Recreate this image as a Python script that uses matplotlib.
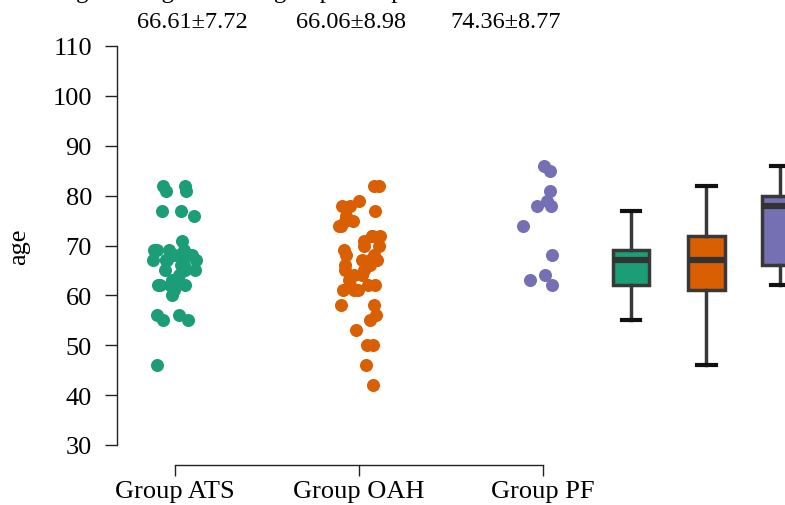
import numpy as np
import matplotlib
matplotlib.use('Agg')
from matplotlib import pyplot as plt

plt.rcParams['font.family'] = ['Liberation Serif', 'DejaVu Serif']

groups = ['Group ATS', 'Group OAH', 'Group PF']
ats = [46, 55, 55, 56, 56, 60, 61, 62, 62, 62, 62, 63, 63, 64, 65, 65, 65, 66, 66,
       67, 67, 67, 67, 67, 68, 68, 68, 68, 69, 69, 69, 69, 71, 76, 77, 77, 81, 81, 82, 82]
oah = [42, 46, 50, 50, 53, 55, 56, 58, 58, 61, 61, 61, 62, 62, 62, 63, 64, 64, 65, 65,
       66, 66, 67, 67, 67, 68, 68, 69, 70, 70, 71, 72, 72, 72, 74, 75, 74, 75, 76, 77,
       78, 78, 79, 82, 82]
pf = [62, 63, 64, 68, 74, 78, 78, 79, 81, 85, 86]
stats_txt = ['66.61\u00b17.72', '66.06\u00b18.98', '74.36\u00b18.77']
title = 'Age among the three groups compared'

colors = ['#1b9e77', '#d95f02', '#7570b3']
data = [ats, oah, pf]

fig = plt.figure(figsize=(7.85, 5.06), dpi=100)
ax = fig.add_axes([117/785, 60/506, 720/785, 399/506])

rng = np.random.default_rng(3)
for i, (vals, c) in enumerate(zip(data, colors)):
    xs = i + rng.uniform(-0.12, 0.12, len(vals))
    ax.scatter(xs, vals, s=88, color=c, linewidths=0, zorder=3)

box_pos = [2.48, 2.89, 3.29]
bp = ax.boxplot(data, positions=box_pos, widths=0.2, showfliers=False,
                patch_artist=True, manage_ticks=False, capwidths=0.1,
                boxprops=dict(edgecolor='#383838', linewidth=2.5),
                medianprops=dict(color='#333333', linewidth=4.5),
                whiskerprops=dict(color='#383838', linewidth=2.5),
                capprops=dict(color='#111111', linewidth=3))
for patch, c in zip(bp['boxes'], colors):
    patch.set_facecolor(c)

ax.set_xlim(-0.315, 3.6)
ax.set_ylim(30, 110)
ax.set_yticks(range(30, 111, 10))
ax.set_xticks([0, 1, 2])
ax.set_xticklabels(groups)
ax.set_ylabel('age', fontsize=19, labelpad=16)

for s in ['top', 'right']:
    ax.spines[s].set_visible(False)
ax.spines['left'].set_bounds(30, 110)
ax.spines['bottom'].set_bounds(0, 2)
ax.spines['bottom'].set_position(('outward', 14.4))
for s in ['left', 'bottom']:
    ax.spines[s].set_color('#222222')
    ax.spines[s].set_linewidth(1)
ax.tick_params(axis='y', length=9, width=1, color='#222222', pad=9, labelsize=19)
ax.tick_params(axis='x', length=8, width=1, color='#222222', pad=3, labelsize=19)

for xf, t in zip([192/785, 351/785, 506/785], stats_txt):
    fig.text(xf, 1 - 22/506, t, ha='center', va='center', fontsize=17.5)

fig.text(58/785, 1 + 2/506, title, ha='left', va='baseline', fontsize=18)

fig.savefig('out.png', dpi=100)
